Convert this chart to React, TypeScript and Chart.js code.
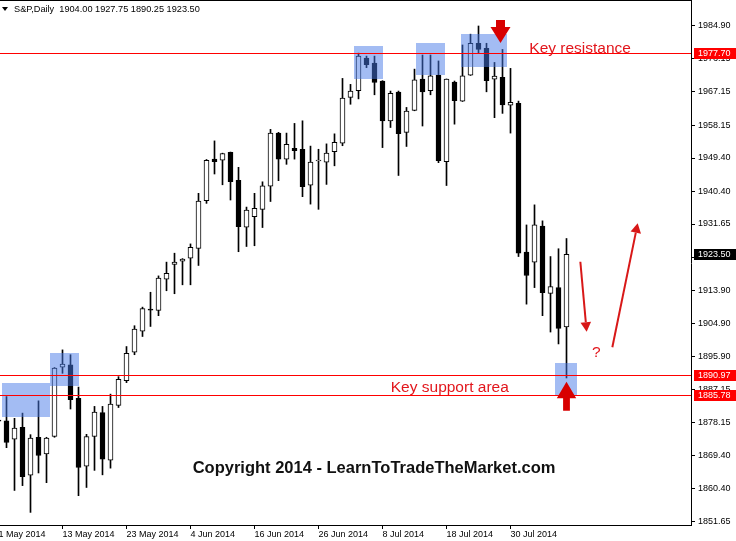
import { useEffect, useRef } from "react";
import { Chart, registerables } from "chart.js";

Chart.register(...registerables);

// ---- DATA ----
const dates = [
  "1 May", "2 May", "5 May", "6 May", "7 May", "8 May", "9 May", "12 May", "13 May",
  "14 May", "15 May", "16 May", "19 May", "20 May", "21 May", "22 May", "23 May",
  "26 May", "27 May", "28 May", "29 May", "30 May", "2 Jun", "3 Jun", "4 Jun",
  "5 Jun", "6 Jun", "9 Jun", "10 Jun", "11 Jun", "12 Jun", "13 Jun", "16 Jun",
  "17 Jun", "18 Jun", "19 Jun", "20 Jun", "23 Jun", "24 Jun", "25 Jun", "26 Jun",
  "27 Jun", "30 Jun", "1 Jul", "2 Jul", "3 Jul", "4 Jul", "7 Jul", "8 Jul",
  "9 Jul", "10 Jul", "11 Jul", "14 Jul", "15 Jul", "16 Jul", "17 Jul", "18 Jul",
  "21 Jul", "22 Jul", "23 Jul", "24 Jul", "25 Jul", "28 Jul", "29 Jul", "30 Jul",
  "31 Jul", "1 Aug", "4 Aug", "5 Aug", "6 Aug", "7 Aug", "8 Aug",
];
const year = "2014";

const opens = [
  1878.9, 1878.7, 1873.8, 1877.0, 1864.1, 1874.3, 1869.8, 1874.5, 1893.15,
  1893.8, 1884.8, 1866.5, 1874.5, 1880.95, 1868.15, 1882.9, 1889.55,
  1897.2, 1902.8, 1908.8, 1908.4, 1916.8, 1920.8, 1921.65, 1922.45,
  1925.1, 1937.9, 1949.1, 1948.8, 1950.95, 1943.4, 1930.8, 1933.6,
  1935.6, 1941.8, 1956.1, 1949.1, 1952.0, 1951.75, 1942.1, 1948.6,
  1948.3, 1951.1, 1953.4, 1965.7, 1967.5, 1976.3, 1974.95, 1970.1,
  1959.4, 1967.1, 1956.3, 1962.2, 1970.65, 1967.5, 1971.7, 1948.4,
  1969.8, 1964.7, 1971.7, 1980.25, 1978.9, 1970.6, 1971.1, 1963.6,
  1964.1, 1924.1, 1921.4, 1931.1, 1913.0, 1914.55, 1904.0,
];
const highs = [
  1880.5, 1885.25, 1879.4, 1880.8, 1875.0, 1884.1, 1874.3, 1893.05, 1897.8,
  1896.5, 1887.8, 1875.1, 1882.6, 1882.6, 1885.9, 1890.6, 1898.7,
  1904.3, 1909.3, 1913.3, 1917.7, 1921.4, 1923.8, 1922.35, 1926.3,
  1939.9, 1949.0, 1954.0, 1950.7, 1951.0, 1946.9, 1936.2, 1939.9,
  1943.0, 1957.1, 1956.3, 1956.1, 1958.7, 1959.4, 1952.6, 1951.75,
  1953.2, 1955.9, 1970.8, 1969.2, 1977.6, 1976.8, 1976.8, 1970.2,
  1967.4, 1967.4, 1963.0, 1973.3, 1977.1, 1977.1, 1975.5, 1970.65,
  1970.1, 1979.8, 1982.7, 1984.9, 1980.25, 1975.1, 1978.6, 1973.5,
  1964.7, 1931.4, 1936.8, 1932.5, 1922.9, 1925.0, 1927.75,
];
const lows = [
  1876.5, 1871.5, 1860.0, 1861.3, 1854.1, 1864.7, 1862.1, 1874.3, 1891.5,
  1881.9, 1858.6, 1860.8, 1865.4, 1864.2, 1866.0, 1882.3, 1889.0,
  1896.5, 1901.4, 1904.1, 1907.0, 1913.7, 1912.9, 1915.3, 1915.3,
  1920.5, 1937.2, 1945.1, 1942.2, 1938.1, 1924.2, 1925.6, 1925.8,
  1930.7, 1937.7, 1943.3, 1947.7, 1949.1, 1939.0, 1937.0, 1935.6,
  1942.3, 1947.3, 1952.7, 1963.85, 1965.3, 1973.7, 1966.4, 1952.2,
  1957.6, 1944.7, 1952.5, 1962.1, 1958.0, 1966.4, 1948.15, 1942.0,
  1958.5, 1964.6, 1971.6, 1977.6, 1967.2, 1960.25, 1961.4, 1956.1,
  1922.9, 1910.1, 1914.55, 1907.0, 1902.6, 1899.4, 1890.25,
];
const closes = [
  1878.6, 1872.9, 1876.75, 1863.7, 1874.1, 1869.4, 1874.1, 1892.9, 1894.0,
  1884.4, 1866.2, 1874.5, 1881.1, 1868.4, 1883.2, 1889.9, 1896.9,
  1903.4, 1908.9, 1908.5, 1917.1, 1918.4, 1921.4, 1922.2, 1925.4,
  1937.8, 1948.8, 1948.4, 1950.6, 1943.05, 1930.95, 1935.4, 1935.9,
  1941.9, 1956.1, 1949.1, 1953.1, 1951.4, 1941.7, 1948.3, 1948.8,
  1950.7, 1953.6, 1965.5, 1967.4, 1976.8, 1974.5, 1969.7, 1959.4,
  1966.8, 1955.95, 1962.05, 1970.4, 1967.2, 1971.5, 1948.7, 1970.6,
  1964.8, 1971.5, 1980.25, 1978.6, 1970.2, 1971.4, 1963.7, 1964.4,
  1923.8, 1917.8, 1931.4, 1913.2, 1914.8, 1903.6, 1923.5,
];

const dateTickStep = 8;
const priceTicks = [
  1984.9, 1976.15, 1967.15, 1958.15, 1949.4, 1940.4, 1931.65, 1922.65,
  1913.9, 1904.9, 1895.9, 1887.15, 1878.15, 1869.4, 1860.4, 1851.65,
];
const levels = [1977.7, 1890.97, 1885.78];

// highlighted zones (bar index from/to, price top/bottom)
const zoneFrom = [0.44, 6.44, 44.44, 52.19, 57.81, 69.56];
const zoneTo = [6.44, 10.06, 48.06, 55.81, 63.52, 72.27];
const zoneTop = [1888.9, 1896.96, 1979.5, 1980.33, 1982.75, 1894.27];
const zoneBottom = [1879.75, 1888.1, 1970.64, 1971.72, 1973.95, 1885.67];

// thick arrows: tip position (bar index, price), direction
const bigArrowX = [62.75, 71.0];
const bigArrowY = [1980.33, 1889.24];
const bigArrowDir = ["down", "up"];

// thin arrows: from -> to (bar index, price)
const thinFromX = [72.73, 76.73];
const thinFromY = [1921.5, 1898.5];
const thinToX = [73.52, 79.9];
const thinToY = [1902.7, 1931.84];

const noteTexts = ["Key resistance", "Key support area", "?"];
const noteX = [66.35, 49.03, 74.19];
const noteY = [1977.7, 1886.55, 1895.9];

const copyrightText = "Copyright 2014 - LearnToTradeTheMarket.com";
const copyrightX = 24.27;
const copyrightY = 1864.77;

const symbolName = "S&P,Daily";

// ---- STYLE ----
const FONT = "Liberation Sans";
const BAR_PX = 8;
const AREA_W = 691;
const X_MIN = 0.1875;
const Y_MIN = 1850.71;
const Y_MAX = 1991.62;

const zeroPad = (scale: any) => {
  scale.paddingTop = 0;
  scale.paddingBottom = 0;
  scale.paddingLeft = 0;
  scale.paddingRight = 0;
};

const overlayPlugin = {
  id: "overlay",
  afterDraw(chart: any) {
    const { ctx, chartArea } = chart;
    const xs = chart.scales.x;
    const ys = chart.scales.y;
    const px = (v: number) => xs.getPixelForValue(v);
    const py = (v: number) => ys.getPixelForValue(v);

    ctx.save();
    ctx.beginPath();
    ctx.rect(chartArea.left, chartArea.top, chartArea.right - chartArea.left, chartArea.bottom - chartArea.top);
    ctx.clip();

    // zones
    ctx.fillStyle = "rgba(72,122,232,0.5)";
    for (let i = 0; i < zoneFrom.length; i++) {
      const x0 = Math.round(px(zoneFrom[i]));
      const x1 = Math.round(px(zoneTo[i]));
      const y0 = Math.round(py(zoneTop[i]));
      const y1 = Math.round(py(zoneBottom[i]));
      ctx.fillRect(x0, y0, x1 - x0, y1 - y0);
    }

    // levels
    ctx.fillStyle = "#ff0000";
    for (const l of levels) {
      const y = Math.round(py(l));
      ctx.fillRect(chartArea.left, y, chartArea.right - chartArea.left, 1);
    }

    // thick arrows
    ctx.fillStyle = "#d80000";
    for (let i = 0; i < bigArrowX.length; i++) {
      const tx = px(bigArrowX[i]);
      const ty = py(bigArrowY[i]);
      const d = bigArrowDir[i] === "down" ? 1 : -1;
      const headHalf = d === 1 ? 10 : 9.7;
      const headLen = d === 1 ? 16 : 16.6;
      const shaftHalf = d === 1 ? 4.5 : 3.4;
      const total = d === 1 ? 23 : 29;
      ctx.beginPath();
      ctx.moveTo(tx, ty);
      ctx.lineTo(tx - headHalf, ty - d * headLen);
      ctx.lineTo(tx - shaftHalf, ty - d * headLen);
      ctx.lineTo(tx - shaftHalf, ty - d * total);
      ctx.lineTo(tx + shaftHalf, ty - d * total);
      ctx.lineTo(tx + shaftHalf, ty - d * headLen);
      ctx.lineTo(tx + headHalf, ty - d * headLen);
      ctx.closePath();
      ctx.fill();
    }

    // thin arrows
    ctx.strokeStyle = "#d81818";
    ctx.fillStyle = "#d81818";
    ctx.lineWidth = 2;
    for (let i = 0; i < thinFromX.length; i++) {
      const x0 = px(thinFromX[i]);
      const y0 = py(thinFromY[i]);
      const x1 = px(thinToX[i]);
      const y1 = py(thinToY[i]);
      const ang = Math.atan2(y1 - y0, x1 - x0);
      const headLen = 9.5;
      const headHalf = 5.3;
      const bx = x1 - Math.cos(ang) * headLen;
      const by = y1 - Math.sin(ang) * headLen;
      ctx.beginPath();
      ctx.moveTo(x0, y0);
      ctx.lineTo(bx, by);
      ctx.stroke();
      ctx.beginPath();
      ctx.moveTo(x1, y1);
      ctx.lineTo(bx + Math.sin(ang) * headHalf, by - Math.cos(ang) * headHalf);
      ctx.lineTo(bx - Math.sin(ang) * headHalf, by + Math.cos(ang) * headHalf);
      ctx.closePath();
      ctx.fill();
    }

    // notes
    ctx.fillStyle = "#e2161c";
    ctx.font = `15.5px "${FONT}"`;
    ctx.textAlign = "left";
    ctx.textBaseline = "alphabetic";
    for (let i = 0; i < noteTexts.length; i++) {
      ctx.fillText(noteTexts[i], px(noteX[i]), py(noteY[i]));
    }

    // copyright
    ctx.fillStyle = "#111111";
    ctx.font = `bold 16.5px "${FONT}"`;
    ctx.fillText(copyrightText, px(copyrightX), py(copyrightY));

    ctx.restore();

    // frame top line
    ctx.save();
    ctx.fillStyle = "#000";
    ctx.fillRect(chartArea.left, 0, chartArea.right - chartArea.left + 1, 1);

    // price labels on axis
    ctx.font = `9px "${FONT}"`;
    ctx.textBaseline = "middle";
    ctx.textAlign = "left";
    const boxLeft = chartArea.right + 3;
    const boxW = chart.width - boxLeft;
    const drawTag = (v: number, bg: string) => {
      const y = Math.round(py(v));
      ctx.fillStyle = bg;
      ctx.fillRect(boxLeft, y - 5, boxW, 11);
      ctx.fillStyle = "#ffffff";
      ctx.fillText(v.toFixed(2), chartArea.right + 7, y + 0.5);
    };
    for (const l of levels) drawTag(l, "#ff0000");
    drawTag(closes[closes.length - 1], "#000000");

    // header
    const last = closes.length - 1;
    ctx.fillStyle = "#000";
    ctx.beginPath();
    ctx.moveTo(2, 7);
    ctx.lineTo(8, 7);
    ctx.lineTo(5, 11);
    ctx.closePath();
    ctx.fill();
    ctx.textBaseline = "alphabetic";
    ctx.font = `9.2px "${FONT}"`;
    const header =
      `${symbolName}  ${opens[last].toFixed(2)} ${highs[last].toFixed(2)} ` +
      `${lows[last].toFixed(2)} ${closes[last].toFixed(2)}`;
    ctx.fillText(header, 14, 12);
    ctx.restore();
  },
};

export default function App() {
  const canvasRef = useRef<HTMLCanvasElement | null>(null);

  useEffect(() => {
    const canvas = canvasRef.current;
    if (!canvas) return;
    const bodyColors = opens.map((o, i) => (closes[i] >= o ? "#ffffff" : "#000000"));
    const chart = new Chart(canvas, {
      type: "bar",
      data: {
        datasets: [
          {
            label: "body",
            data: dates.map((_, i) => ({ x: i, y: [opens[i], closes[i]] })) as any,
            backgroundColor: bodyColors,
            borderColor: "#000000",
            borderWidth: 1,
            borderSkipped: false,
            grouped: false,
            barThickness: 5,
            maxBarThickness: 5,
            barPercentage: 0.625,
            categoryPercentage: 1,
            minBarLength: 1,
            order: 0,
          } as any,
          {
            label: "wick",
            data: dates.map((_, i) => ({ x: i, y: [lows[i], highs[i]] })) as any,
            backgroundColor: "#000000",
            borderWidth: 0,
            grouped: false,
            barThickness: 1,
            maxBarThickness: 1,
            barPercentage: 0.125,
            categoryPercentage: 1,
            order: 1,
          } as any,
        ],
      },
      options: {
        responsive: false,
        animation: false,
        devicePixelRatio: 1,
        layout: { padding: { top: 1, left: 0, right: 0, bottom: 0 } },
        plugins: {
          legend: { display: false },
          tooltip: { enabled: false },
          title: { display: false },
        },
        scales: {
          x: {
            type: "linear",
            min: X_MIN,
            max: X_MIN + AREA_W / BAR_PX,
            offset: false,
            afterBuildTicks: (scale: any) => {
              const t: any[] = [];
              for (let i = 0; i < dates.length; i += dateTickStep) t.push({ value: i });
              scale.ticks = t;
            },
            afterFit: (scale: any) => {
              scale.height = 16;
              zeroPad(scale);
            },
            ticks: {
              autoSkip: false,
              maxRotation: 0,
              minRotation: 0,
              align: "start",
              padding: 0,
              color: "#000",
              font: { family: FONT, size: 9 },
              callback: (value: any) => `${dates[Math.round(Number(value))]} ${year}`,
            },
            grid: {
              offset: false,
              drawOnChartArea: false,
              drawTicks: true,
              tickLength: 4,
              color: "#000",
            },
            border: { display: true, color: "#000", width: 1 },
          },
          y: {
            type: "linear",
            position: "right",
            min: Y_MIN,
            max: Y_MAX,
            afterBuildTicks: (scale: any) => {
              scale.ticks = priceTicks.map((v) => ({ value: v }));
            },
            afterFit: (scale: any) => {
              scale.width = 45;
              zeroPad(scale);
            },
            ticks: {
              padding: 3,
              color: "#000",
              font: { family: FONT, size: 9 },
              callback: (value: any) => Number(value).toFixed(2),
            },
            grid: {
              drawOnChartArea: false,
              drawTicks: true,
              tickLength: 4,
              color: "#000",
            },
            border: { display: true, color: "#000", width: 1 },
          },
        },
      } as any,
      plugins: [overlayPlugin],
    });
    return () => chart.destroy();
  }, []);

  return (
    <div style={{ position: "absolute", left: 0, top: 0, width: 736, height: 541, background: "#fff" }}>
      <canvas ref={canvasRef} width={736} height={541} style={{ display: "block" }} />
    </div>
  );
}
